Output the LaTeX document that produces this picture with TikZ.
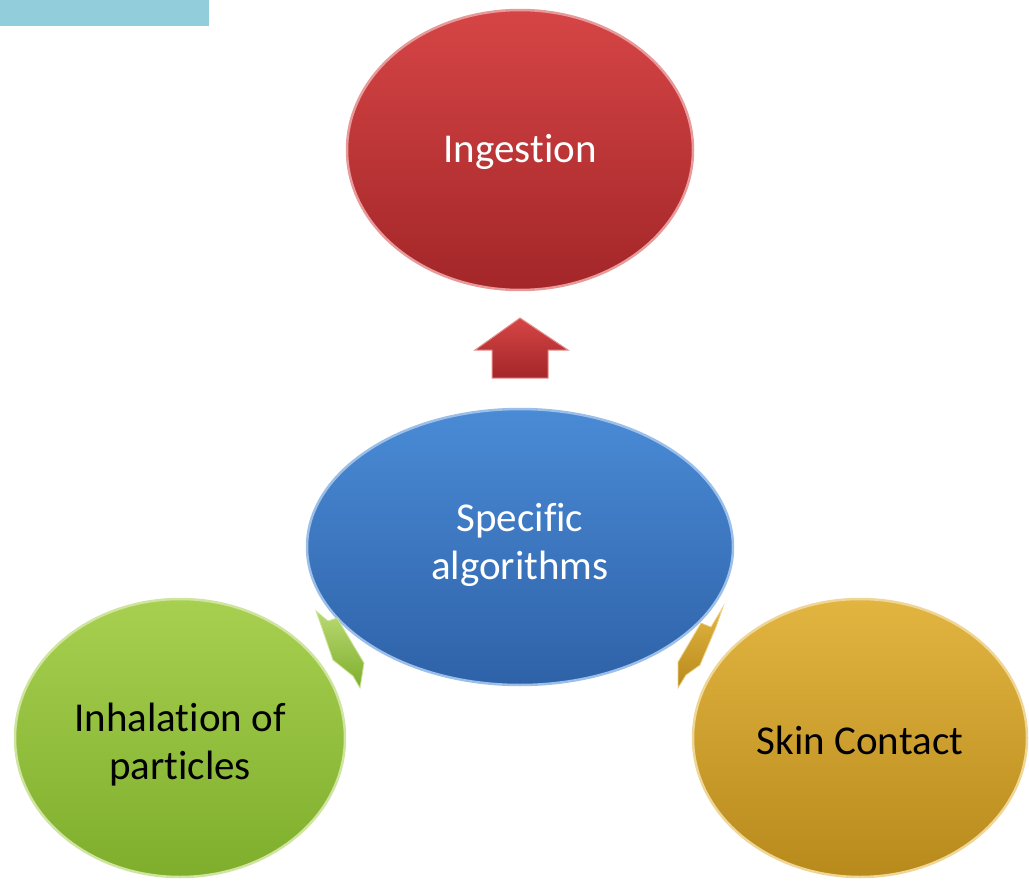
\documentclass[tikz,border=0pt]{standalone}
\usepackage{fontspec}
\setmainfont{Carlito}[Ligatures={NoCommon}]
\usetikzlibrary{shapes.geometric}
\definecolor{topbar}{HTML}{92CDDC}
\definecolor{redT}{HTML}{D64546}
\definecolor{redB}{HTML}{A32628}
\definecolor{bluT}{HTML}{4A8BD6}
\definecolor{bluB}{HTML}{2E62A8}
\definecolor{grnT}{HTML}{A8D050}
\definecolor{grnB}{HTML}{7EAE2C}
\definecolor{gldT}{HTML}{E2B440}
\definecolor{gldB}{HTML}{B88A1C}
\tikzset{
  bubble/.style={ellipse, inner sep=0pt, align=center, font=\fontsize{41}{48}\selectfont, line width=2.5pt},
  lbl/.style={align=center, font=\fontsize{41}{48}\selectfont},
}
\begin{document}
\begin{tikzpicture}[x=1pt,y=-1pt]
\useasboundingbox (0,0) rectangle (1029,883);
\fill[topbar] (0,0) rectangle (209,26);
% ellipses
\node[bubble, minimum width=346pt, minimum height=280pt, top color=redT, bottom color=redB, draw=redT!55!white] (ing) at (520,150) {};
\node[bubble, minimum width=426pt, minimum height=276pt, top color=bluT, bottom color=bluB, draw=bluT!55!white] (spec) at (520,547) {};
\node[bubble, minimum width=330pt, minimum height=278pt, top color=grnT, bottom color=grnB, draw=grnT!55!white] (inh) at (180,738) {};
\node[bubble, minimum width=334pt, minimum height=278pt, top color=gldT, bottom color=gldB, draw=gldT!55!white] (skin) at (860,738) {};
% labels
\node[lbl, text=white] (tIng) at ([yshift=-2pt]ing.center) {Ingestion};
\node[lbl, text=white] (tSpec) at ([yshift=2pt]spec.center) {Specific\\algorithms};
\node[lbl, text=black] (tInh) at ([yshift=-7pt]inh.center) {Inhalation of\\particles};
\node[lbl, text=black] (tSkin) at ([yshift=-2pt]skin.center) {Skin Contact};
% arrows
\shade[top color=redT, bottom color=redB, draw=redT!60!white, line width=1pt]
  (475,350) -- (520,318) -- (568,350) -- (548,350) -- (548,378) -- (492,378) -- (492,350) -- cycle;
\shade[top color=grnT!80!white, bottom color=grnB, draw=grnT!60!white, line width=0.8pt]
  (316,611) -- (328,621) -- (337,618) -- (364,663) -- (360,688) -- (353,676) -- (333,660) -- (321,625) -- cycle;
\shade[top color=gldT, bottom color=gldB, draw=gldT!60!white, line width=0.8pt]
  (723,607) -- (716,627) -- (700,665) -- (686,675) -- (678,688) -- (678,662) -- (701,623) -- (711,627) -- cycle;
\end{tikzpicture}
\end{document}
